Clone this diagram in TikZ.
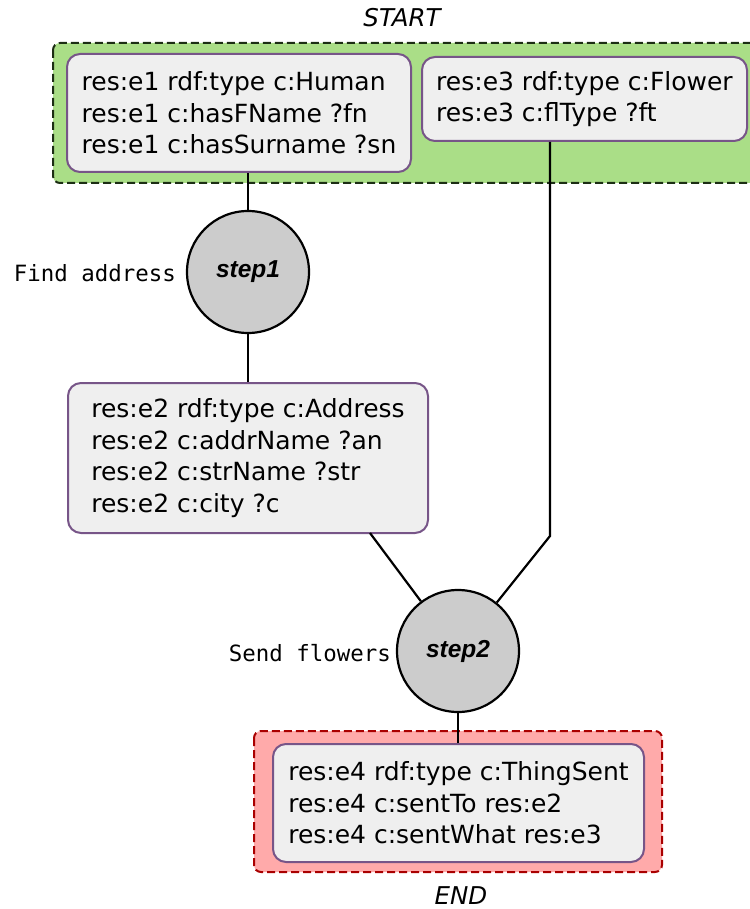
\documentclass[tikz,border=0pt]{standalone}
\usepackage{fontspec}
\setmainfont{DejaVu Sans}
\newfontfamily\monofont{DejaVu Sans Mono}
\newfontfamily\stepfont{Liberation Sans}
\usetikzlibrary{calc}
\definecolor{startfill}{HTML}{AADE87}
\definecolor{startedge}{HTML}{1C2E14}
\definecolor{endfill}{HTML}{FFAAAA}
\definecolor{endedge}{HTML}{AA0000}
\definecolor{boxfill}{HTML}{EFEFEF}
\definecolor{boxedge}{HTML}{775588}
\definecolor{stepfill}{HTML}{CCCCCC}
\tikzset{
  triples/.style={draw=boxedge, fill=boxfill, line width=2pt, rounded corners=13pt,
    align=left, inner sep=0pt, font=\fontsize{25}{31.5}\selectfont},
  stepnode/.style={circle, draw=black, fill=stepfill, line width=2.2pt, minimum size=122pt,
    inner sep=0pt, font=\stepfont\bfseries\itshape\fontsize{24.5}{28}\selectfont},
  steplabel/.style={anchor=east, inner sep=0pt, font=\monofont\fontsize{22.4}{26}\selectfont},
  groupbox/.style={line width=2pt, dash pattern=on 8pt off 4pt, rounded corners=7pt},
  edge/.style={line width=2.2pt, draw=black},
  terminal/.style={inner sep=0pt, font=\itshape\fontsize{24.5}{28}\selectfont}
}
\begin{document}
\begin{tikzpicture}[x=1pt, y=-1pt]
\useasboundingbox (0,0) rectangle (749,909);

% start and end groups
\draw[groupbox, draw=startedge, fill=startfill] (53,43) rectangle (780,183);
\draw[groupbox, draw=endedge, fill=endfill] (254,731) rectangle (662,872);
\node[terminal] (start) at (402,18) {START};
\node[terminal] (end) at (461,896) {END};

% triple patterns
\node[triples, minimum width=344pt, minimum height=118pt] (e1) at (239,113) {res:e1 rdf:type c:Human\\res:e1 c:hasFName ?fn\\res:e1 c:hasSurname ?sn};
\node[triples, minimum width=325pt, minimum height=84pt] (e3) at (584.5,99) {res:e3 rdf:type c:Flower\\res:e3 c:flType ?ft};
\node[triples, minimum width=360pt, minimum height=150pt] (e2) at (248,458) {res:e2 rdf:type c:Address\\res:e2 c:addrName ?an\\res:e2 c:strName ?str\\res:e2 c:city ?c};
\node[triples, minimum width=371pt, minimum height=118pt] (e4) at (458.5,803) {res:e4 rdf:type c:ThingSent\\res:e4 c:sentTo res:e2\\res:e4 c:sentWhat res:e3};

% steps
\node[stepnode] (step1) at (248,272) {step1};
\node[stepnode] (step2) at (458,651) {step2};
\node[steplabel] (lab1) at (176,273) {Find address};
\node[steplabel] (lab2) at (391,653) {Send flowers};

% connectors
\coordinate (e2out) at (370,533);
\coordinate (bend) at (550,536);
\draw[edge] (step1.north) -- (step1.north |- e1.south);
\draw[edge] (step1.south) -- (step1.south |- e2.north);
\draw[edge] (e2out) -- (step2);
\draw[edge] (e3.south -| bend) -- (bend) -- (step2);
\draw[edge] (step2.south) -- (step2.south |- e4.north);
\end{tikzpicture}
\end{document}
